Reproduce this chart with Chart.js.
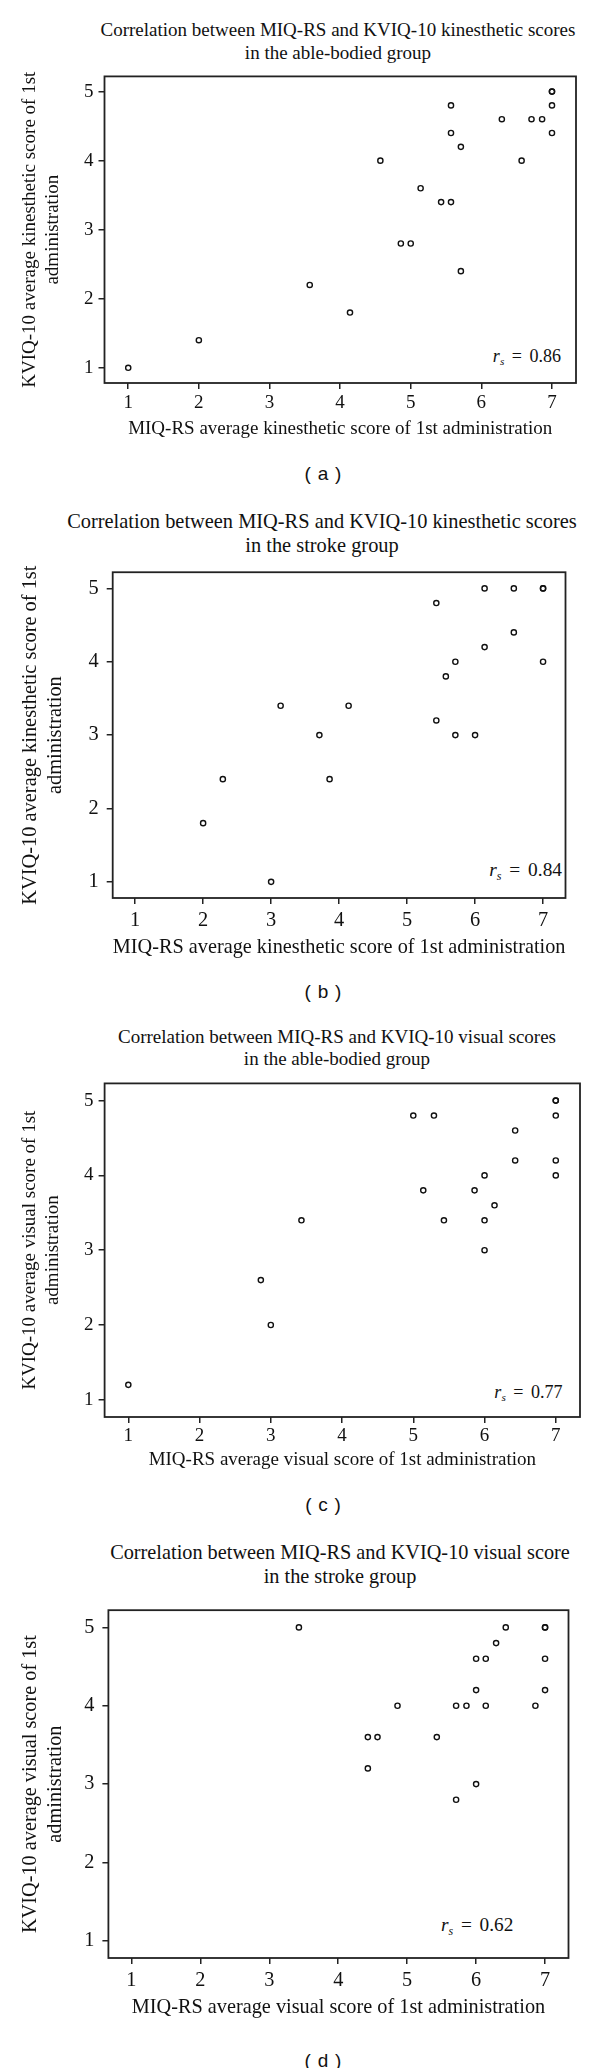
<!DOCTYPE html>
<html>
<head>
<meta charset="utf-8">
<script src="https://cdn.jsdelivr.net/npm/chart.js@4.4.1/dist/chart.umd.min.js"></script>
<style>
body{margin:0;background:#fff;width:600px;height:2068px;position:relative;overflow:hidden;color:#111}
.ttl{position:absolute;left:0;width:600px;text-align:center;font-family:"Liberation Serif",serif;white-space:nowrap}
.cap{position:absolute;left:0;width:646px;text-align:center;font:19px "Liberation Sans",sans-serif;line-height:22px;word-spacing:1.5px}
.rs{position:absolute;text-align:right;font-family:"Liberation Serif",serif;white-space:nowrap;word-spacing:3px}
.rs sub{font-size:0.62em;vertical-align:-0.3em;font-style:italic}
canvas{position:absolute;left:0}
</style>
</head>
<body>
<script>
// axis ticks
const xTicks = [1, 2, 3, 4, 5, 6, 7];
const yTicks = [1, 2, 3, 4, 5];

// (a) kinesthetic, able-bodied
const kinAbleMiq  = [1, 2, 3.57, 4.14, 4.57, 4.86, 5, 5.14, 5.43, 5.57, 5.57, 5.57, 5.71, 5.71, 6.29, 6.57, 6.71, 6.86, 7, 7, 7, 7];
const kinAbleKviq = [1, 1.4, 2.2, 1.8, 4, 2.8, 2.8, 3.6, 3.4, 3.4, 4.8, 4.4, 4.2, 2.4, 4.6, 4, 4.6, 4.6, 5, 5, 4.8, 4.4];

// (b) kinesthetic, stroke
const kinStrokeMiq  = [2, 2.29, 3, 3.14, 3.71, 3.86, 4.14, 5.43, 5.43, 5.57, 5.71, 5.71, 6, 6.14, 6.14, 6.57, 6.57, 7, 7, 7];
const kinStrokeKviq = [1.8, 2.4, 1, 3.4, 3, 2.4, 3.4, 4.8, 3.2, 3.8, 4, 3, 3, 5, 4.2, 5, 4.4, 5, 5, 4];

// (c) visual, able-bodied
const visAbleMiq  = [1, 2.86, 3, 3.43, 5, 5.14, 5.29, 5.43, 5.86, 6, 6, 6, 6.14, 6.43, 6.43, 7, 7, 7, 7, 7];
const visAbleKviq = [1.2, 2.6, 2, 3.4, 4.8, 3.8, 4.8, 3.4, 3.8, 4, 3.4, 3, 3.6, 4.6, 4.2, 5, 5, 4.8, 4.2, 4];

// (d) visual, stroke
const visStrokeMiq  = [3.43, 4.43, 4.57, 4.43, 4.86, 5.43, 5.71, 5.71, 5.86, 6, 6, 6, 6.14, 6.14, 6.29, 6.43, 6.86, 7, 7, 7, 7];
const visStrokeKviq = [5, 3.6, 3.6, 3.2, 4, 3.6, 4, 2.8, 4, 4.6, 4.2, 3, 4.6, 4, 4.8, 5, 4, 5, 5, 4.6, 4.2];

const panelTitles = [
  ['Correlation between MIQ-RS and KVIQ-10 kinesthetic scores', 'in the able-bodied group'],
  ['Correlation between MIQ-RS and KVIQ-10 kinesthetic scores', 'in the stroke group'],
  ['Correlation between MIQ-RS and KVIQ-10 visual scores', 'in the able-bodied group'],
  ['Correlation between MIQ-RS and KVIQ-10 visual score', 'in the stroke group']
];
const xTitles = [
  'MIQ-RS average kinesthetic score of 1st administration',
  'MIQ-RS average kinesthetic score of 1st administration',
  'MIQ-RS average visual score of 1st administration',
  'MIQ-RS average visual score of 1st administration'
];
const yTitles = [
  ['KVIQ-10 average kinesthetic score of 1st', 'administration'],
  ['KVIQ-10 average kinesthetic score of 1st', 'administration'],
  ['KVIQ-10 average visual score of 1st', 'administration'],
  ['KVIQ-10 average visual score of 1st', 'administration']
];
const captions = ['( a )', '( b )', '( c )', '( d )'];
const rsValues = ['0.86', '0.84', '0.77', '0.62'];
const xMin = [0.664, 0.67, 0.667, 0.667];
const xMax = [7.34, 7.33, 7.34, 7.34];
const yMin = [0.78, 0.78, 0.77, 0.78];
const yMax = [5.22, 5.22, 5.23, 5.22];

const seriesX = [kinAbleMiq, kinStrokeMiq, visAbleMiq, visStrokeMiq];
const seriesY = [kinAbleKviq, kinStrokeKviq, visAbleKviq, visStrokeKviq];

// placement of each panel on the page
const panels = [
  {L:104.5, R:576,   T:70.3,   B:382.7,  fs:19,   tcx:338, t1:30.7,   tickOff:20.3, xtOff:45.6, tp:5, capY:474,   rsR:561,   rsY:357},
  {L:112.7, R:565.5, T:562.7,  B:897.3,  fs:20.4, tcx:322, t1:521,    tickOff:22.5, xtOff:49.5, tp:8, capY:991.7, rsR:562,   rsY:869.3},
  {L:104.6, R:580,   T:1077.3, B:1416.7, fs:19,   tcx:337, t1:1037,   tickOff:18.8, xtOff:43.5, tp:5, capY:1505,  rsR:562.5, rsY:1392.7},
  {L:108.4, R:568.5, T:1600,   B:1957.5, fs:20.3, tcx:340, t1:1552,   tickOff:22.5, xtOff:49.5, tp:8, capY:2061,  rsR:513.3, rsY:1925}
];

Chart.defaults.font.family = '"Liberation Serif", serif';
Chart.defaults.color = '#111';

const boxPlugin = {
  id: 'box',
  beforeDatasetsDraw(c) {
    const a = c.chartArea, ctx = c.ctx;
    ctx.save();
    ctx.strokeStyle = '#222';
    ctx.lineWidth = 1.8;
    ctx.strokeRect(a.left, a.top, a.right - a.left, a.bottom - a.top);
    ctx.restore();
  }
};

const TL = 6;
const HX = 70;

panels.forEach((p, i) => {
  const lh = p.fs * 1.2;

  const t = document.createElement('div');
  t.className = 'ttl';
  t.style.left = (p.tcx - 300) + 'px';
  t.style.top = (p.t1 - lh / 2) + 'px';
  t.style.fontSize = p.fs + 'px';
  t.style.lineHeight = lh + 'px';
  t.innerHTML = panelTitles[i].join('<br>');
  document.body.appendChild(t);

  const cap = document.createElement('div');
  cap.className = 'cap';
  cap.style.top = (p.capY - 11) + 'px';
  cap.textContent = captions[i];
  document.body.appendChild(cap);

  const rs = document.createElement('div');
  const rfs = p.fs * 0.95;
  rs.className = 'rs';
  rs.style.right = (600 - p.rsR) + 'px';
  rs.style.top = (p.rsY - rfs * 0.6) + 'px';
  rs.style.fontSize = rfs + 'px';
  rs.style.lineHeight = (rfs * 1.2) + 'px';
  rs.innerHTML = '<i>r</i><sub>s</sub> = ' + rsValues[i];
  document.body.appendChild(rs);

  const top = Math.floor(p.T - 10);
  const padTop = p.T - top;
  const cv = document.createElement('canvas');
  cv.width = 600;
  cv.height = Math.ceil(padTop + (p.B - p.T) + HX);
  cv.style.top = top + 'px';
  document.body.appendChild(cv);

  const xs = seriesX[i], ys = seriesY[i];
  new Chart(cv, {
    type: 'scatter',
    data: {
      datasets: [{
        data: xs.map((x, k) => ({x: x, y: ys[k]})),
        pointRadius: 2.6,
        pointHoverRadius: 2.6,
        borderWidth: 1.4,
        borderColor: '#111',
        backgroundColor: 'rgba(0,0,0,0)'
      }]
    },
    options: {
      responsive: false,
      animation: false,
      events: [],
      layout: {padding: {top: padTop, right: 600 - p.R, left: 0, bottom: 0}},
      plugins: {legend: {display: false}, tooltip: {enabled: false}},
      scales: {
        x: {
          type: 'linear', position: 'bottom',
          min: xMin[i], max: xMax[i],
          border: {display: false},
          grid: {drawOnChartArea: false, drawTicks: true, tickLength: TL, color: '#222', lineWidth: 1.5},
          ticks: {font: {size: p.fs}, padding: p.tickOff - TL - lh / 2, maxRotation: 0, autoSkip: false},
          afterBuildTicks: s => { s.ticks = xTicks.map(v => ({value: v})); },
          afterFit: s => { s.height = HX; },
          title: {display: true, text: xTitles[i], font: {size: p.fs}, padding: {top: 0, bottom: HX - p.xtOff - lh / 2}}
        },
        y: {
          type: 'linear',
          min: yMin[i], max: yMax[i],
          border: {display: false},
          grid: {drawOnChartArea: false, drawTicks: true, tickLength: TL, color: '#222', lineWidth: 1.5},
          ticks: {font: {size: p.fs}, padding: p.tp, autoSkip: false},
          afterBuildTicks: s => { s.ticks = yTicks.map(v => ({value: v})); },
          afterFit: s => { s.width = p.L; },
          title: {display: true, text: yTitles[i], font: {size: p.fs}, padding: {top: 18.7, bottom: 0}}
        }
      }
    },
    plugins: [boxPlugin]
  });
});
</script>
</body>
</html>
